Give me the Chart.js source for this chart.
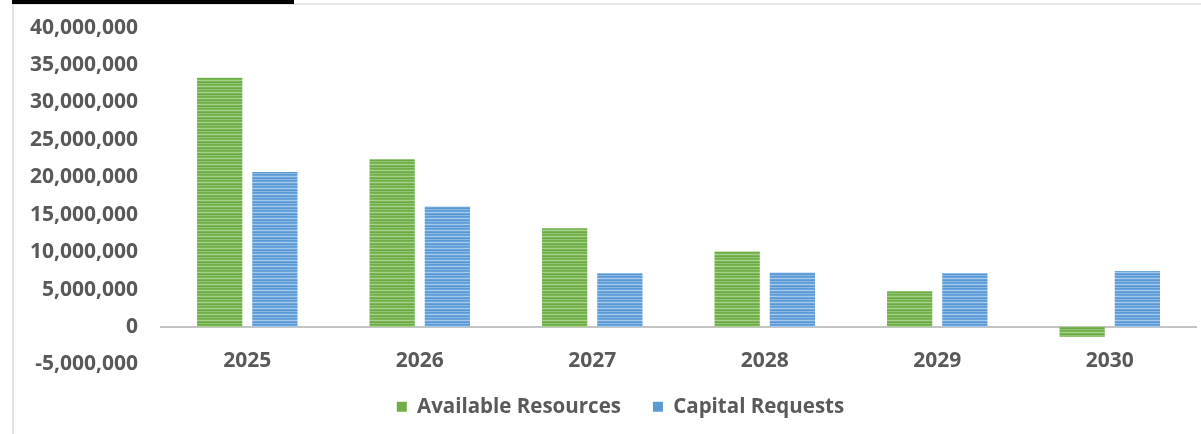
<!DOCTYPE html>
<html>
<head>
<meta charset="utf-8">
<script src="https://cdn.jsdelivr.net/npm/chart.js@4.4.1/dist/chart.umd.min.js"></script>
<style>
  html, body { margin: 0; padding: 0; background: #fff; }
  .wrap { position: relative; width: 1201px; height: 434px; overflow: hidden; }
  .frame { position: absolute; left: 12px; top: 3px; right: 0; bottom: 0; border-left: 2px solid #e3e3e3; border-top: 2px solid #e6e6e6; }
  .tab { position: absolute; left: 12px; top: 0; width: 282px; height: 4px; background: #000; }
  canvas { position: absolute; left: 0; top: 0; }
</style>
</head>
<body>
<div class="wrap">
  <div class="frame"></div>
  <div class="tab"></div>
  <canvas id="myChart" width="1201" height="434"></canvas>
</div>
<script>
// Data
const years = ['2025', '2026', '2027', '2028', '2029', '2030'];
const availableResources = [33300000, 22400000, 13200000, 10100000, 4800000, -1300000];
const capitalRequests = [20700000, 16100000, 7200000, 7300000, 7200000, 7500000];
const yTicks = [-5000000, 0, 5000000, 10000000, 15000000, 20000000, 25000000, 30000000, 35000000, 40000000];

const green = '#70ad47';
const blue = '#5b9bd5';

// striped fill like the picture
const makeStripes = (rows) => {
  const c = document.createElement('canvas');
  c.width = 4;
  c.height = rows.length;
  const g = c.getContext('2d');
  rows.forEach((col, i) => {
    g.fillStyle = col;
    g.fillRect(0, i, 4, 1);
  });
  return g.createPattern(c, 'repeat');
};

const ctx = document.getElementById('myChart').getContext('2d');
const greenFill = makeStripes(['#6fae45', '#7db858', '#a7d08d', '#79b553', '#6aa842', '#93c576']);
const blueFill = makeStripes(['#5a9ad6', '#6da6dc', '#a5c9ec', '#6aa4db', '#5896d3', '#8dbbe6']);

const font = { family: 'Open Sans', weight: 'bold', size: 21 };
const grey = '#595959';

// legend sits a bit right of centre in the original
const legendShift = {
  id: 'legendShift',
  afterUpdate: (chart) => {
    chart.legend.left += 15;
    chart.legend.right += 15;
  },
};

new Chart(ctx, {
  type: 'bar',
  data: {
    labels: years,
    datasets: [{
      label: 'Available Resources',
      data: availableResources,
      backgroundColor: greenFill,
      borderWidth: 0,
    }, {
      label: 'Capital Requests',
      data: capitalRequests,
      backgroundColor: blueFill,
      borderWidth: 0,
    }],
  },
  options: {
    responsive: false,
    animation: false,
    categoryPercentage: 0.64,
    barPercentage: 0.82,
    layout: { padding: { left: 15, right: 5, top: 5, bottom: 7 } },
    plugins: {
      tooltip: { enabled: false },
      legend: {
        position: 'bottom',
        labels: {
          color: grey,
          font: { family: 'Open Sans', weight: 'bold', size: 20.5 },
          boxWidth: 10,
          boxHeight: 10,
          padding: 32,
          generateLabels: (chart) => chart.data.datasets.map((ds, i) => ({
            text: ds.label,
            fillStyle: i === 0 ? green : blue,
            strokeStyle: 'transparent',
            lineWidth: 0,
            datasetIndex: i,
            fontColor: grey,
          })),
        },
      },
    },
    scales: {
      x: {
        position: { y: 0 },
        grid: { display: false },
        border: { display: true, color: '#c4c4c4', width: 2 },
        ticks: { color: grey, font: font, padding: 13 },
      },
      y: {
        min: -5000000,
        max: 40000000,
        afterBuildTicks: (scale) => { scale.ticks = yTicks.map(v => ({ value: v })); },
        grid: { display: false },
        border: { display: false },
        ticks: {
          color: grey,
          font: font,
          padding: 15,
          callback: (v) => v.toLocaleString('en-US'),
        },
      },
    },
  },
  plugins: [legendShift],
});
</script>
</body>
</html>
